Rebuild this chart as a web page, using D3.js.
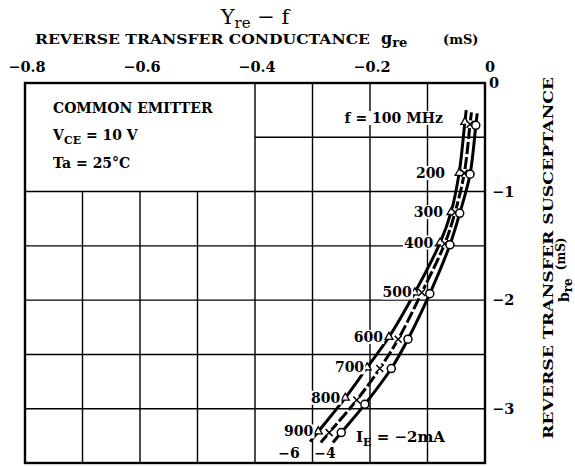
<!DOCTYPE html>
<html>
<head>
<meta charset="utf-8">
<script src="https://cdn.jsdelivr.net/npm/d3@7"></script>
<style>
  body { margin: 0; background: #fff; }
  svg { display: block; }
  text { font-family: "DejaVu Serif", "Liberation Serif", serif; font-weight: bold; fill: #000; }
  text.light { font-weight: normal; }
</style>
</head>
<body>
<div id="chart"></div>
<script>
// 頻率 (MHz)
const freqs = [100, 200, 300, 400, 500, 600, 700, 800, 900];
// IE = -2mA (circles)
const g2 = [-0.016, -0.026, -0.044, -0.061, -0.096, -0.134, -0.163, -0.209, -0.250];
const b2 = [-0.39, -0.84, -1.20, -1.49, -1.94, -2.36, -2.63, -2.96, -3.22];
// IE = -4mA (crosses)
const g4 = [-0.026, -0.036, -0.052, -0.070, -0.110, -0.151, -0.183, -0.223, -0.271];
const b4 = [-0.38, -0.83, -1.19, -1.48, -1.93, -2.36, -2.63, -2.92, -3.22];
// IE = -6mA (triangles)
const g6 = [-0.035, -0.045, -0.059, -0.078, -0.122, -0.167, -0.205, -0.243, -0.290];
const b6 = [-0.36, -0.83, -1.19, -1.47, -1.93, -2.34, -2.62, -2.90, -3.21];

const xTicks = [-0.8, -0.6, -0.4, -0.2, 0];
const xTickLabels = ["\u22120.8", "\u22120.6", "\u22120.4", "\u22120.2", "0"];
const yTicks = [0, -1, -2, -3];
const yTickLabels = ["0", "\u22121", "\u22122", "\u22123"];
const freqLabels = ["f = 100 MHz", "200", "300", "400", "500", "600", "700", "800", "900"];

const W = 575, H = 466;
const svg = d3.select("#chart").append("svg").attr("width", W).attr("height", H);

const x = d3.scaleLinear().domain([-0.8, 0]).range([25, 485]);
const y = d3.scaleLinear().domain([0, -3.5]).range([83, 463]);

// --- grid ---
const grid = svg.append("g").attr("stroke", "#000").attr("stroke-width", 1.4);
d3.range(-0.7, -0.05, 0.1).forEach(v => {
    const top = v < -0.45 ? y(-1) : y(0);
    grid.append("line").attr("x1", x(v)).attr("x2", x(v)).attr("y1", top).attr("y2", y(-3.5));
});
d3.range(-0.5, -3.45, -0.5).forEach(v => {
    const left = v > -0.75 ? x(-0.4) : x(-0.8);
    grid.append("line").attr("x1", left).attr("x2", x(0)).attr("y1", y(v)).attr("y2", y(v));
});

// frame
svg.append("rect")
    .attr("x", x(-0.8)).attr("y", y(0))
    .attr("width", x(0) - x(-0.8)).attr("height", y(-3.5) - y(0))
    .attr("fill", "none").attr("stroke", "#000").attr("stroke-width", 2.4);

// --- top axis labels ---
svg.append("g").selectAll("text").data(xTicks).join("text")
    .attr("x", (d, i) => x(d) + (d === 0 ? 5 : 2))
    .attr("y", 72)
    .attr("text-anchor", "middle")
    .attr("font-size", 14.5)
    .text((d, i) => xTickLabels[i]);

// --- right axis labels ---
svg.append("g").selectAll("text").data(yTicks).join("text")
    .attr("x", d => d === 0 ? 489 : 492)
    .attr("y", d => y(d))
    .attr("dy", "0.35em")
    .attr("font-size", 14.5)
    .text((d, i) => yTickLabels[i]);

// title
const title = svg.append("text").attr("class", "light").attr("x", 255).attr("y", 24).attr("text-anchor", "middle").attr("font-size", 21);
title.append("tspan").text("Y");
title.append("tspan").attr("font-size", 15).attr("dy", 4).text("re");
title.append("tspan").attr("dy", -4).text(" \u2212 f");

const sub = svg.append("text").attr("x", 35).attr("y", 44).attr("font-size", 13);
sub.append("tspan").attr("textLength", 335).attr("lengthAdjust", "spacingAndGlyphs").text("REVERSE TRANSFER CONDUCTANCE");
sub.append("tspan").attr("x", 381).attr("font-size", 16).text("g");
sub.append("tspan").attr("font-size", 13).attr("dy", 3).text("re");
sub.append("tspan").attr("x", 443).attr("dy", -3).attr("font-size", 13).text("(mS)");

// right title
const rt = svg.append("g").attr("transform", "translate(553,258) rotate(-90)");
rt.append("text").attr("text-anchor", "middle").attr("font-size", 13.5)
    .attr("textLength", 362).attr("lengthAdjust", "spacingAndGlyphs")
    .text("REVERSE TRANSFER SUSCEPTANCE");
const rt2 = rt.append("text").attr("x", -44).attr("y", 16).attr("font-size", 14);
rt2.append("tspan").text("b");
rt2.append("tspan").attr("font-size", 12).attr("dy", 3).text("re");
rt2.append("tspan").attr("dx", 8).attr("dy", -7).attr("font-size", 12).text("(mS)");

// conditions box
const cond = svg.append("g").attr("font-size", 14);
cond.append("text").attr("x", 53).attr("y", 113).text("COMMON EMITTER");
const vce = cond.append("text").attr("x", 53).attr("y", 140);
vce.append("tspan").text("V");
vce.append("tspan").attr("font-size", 11).attr("dy", 4).text("CE");
vce.append("tspan").attr("dy", -4).text(" = 10 V");
cond.append("text").attr("x", 53).attr("y", 168).text("Ta = 25\u00B0C");

// --- curves ---
const series = [
    { g: g6, b: b6, marker: "tri", dash: null },
    { g: g4, b: b4, marker: "cross", dash: "12,3" },
    { g: g2, b: b2, marker: "circle", dash: null }
];
const line = d3.line().curve(d3.curveCatmullRom.alpha(0.5));

series.forEach(s => {
    let pts = s.g.map((g, i) => [x(g), y(s.b[i])]);
    // 兩端稍微延伸
    const ext = (a, b, len) => {
        const dx = a[0] - b[0], dy = a[1] - b[1], L = Math.hypot(dx, dy);
        return [a[0] + dx / L * len, a[1] + dy / L * len];
    };
    pts = [ext(pts[0], pts[1], 12), ...pts, ext(pts[pts.length - 1], pts[pts.length - 2], 13)];
    svg.append("path").attr("d", line(pts))
        .attr("fill", "none").attr("stroke", "#000").attr("stroke-width", 3)
        .attr("stroke-dasharray", s.dash);
});

series.forEach(s => {
    const m = svg.append("g");
    s.g.forEach((g, i) => {
        const cx = x(g), cy = y(s.b[i]);
        if (s.marker === "circle") {
            m.append("circle").attr("cx", cx).attr("cy", cy).attr("r", 4)
                .attr("fill", "#fff").attr("stroke", "#000").attr("stroke-width", 1.5);
        } else if (s.marker === "tri") {
            m.append("path").attr("d", d3.symbol(d3.symbolTriangle, 28)())
                .attr("transform", `translate(${cx},${cy})`)
                .attr("fill", "#fff").attr("stroke", "#000").attr("stroke-width", 1.3);
        } else {
            m.append("circle").attr("cx", cx).attr("cy", cy).attr("r", 4).attr("fill", "#fff");
            m.append("path").attr("d", `M${cx - 3.5},${cy - 3.5}L${cx + 3.5},${cy + 3.5}M${cx - 3.5},${cy + 3.5}L${cx + 3.5},${cy - 3.5}`)
                .attr("stroke", "#000").attr("stroke-width", 1.5);
        }
    });
});

// --- frequency labels (white background breaks the grid) ---
const labDx = [22, 14, 8, 7, 3, 6, 3, 5, 5];
const labG = svg.append("g").attr("font-size", 14);
freqLabels.forEach((t, i) => {
    const tx = x(g6[i]) - labDx[i], ty = y(b6[i]) - (i === 0 ? 4 : 0);
    const txt = labG.append("text").attr("x", tx).attr("y", ty).attr("dy", "0.35em")
        .attr("text-anchor", "end").text(t);
    const bb = txt.node().getBBox();
    labG.insert("rect", "text").attr("x", bb.x - 1).attr("y", bb.y + 1)
        .attr("width", bb.width + 2).attr("height", bb.height - 2).attr("fill", "#fff");
});

// IE labels
const ie = svg.append("text").attr("x", 356).attr("y", 442).attr("font-size", 15);
ie.append("tspan").text("I");
ie.append("tspan").attr("font-size", 11).attr("dy", 4).text("E");
ie.append("tspan").attr("dy", -4).text(" = \u22122mA");
svg.append("text").attr("x", 289).attr("y", 458).attr("text-anchor", "middle").attr("font-size", 14).text("\u22126");
svg.append("text").attr("x", 325).attr("y", 458).attr("text-anchor", "middle").attr("font-size", 14).text("\u22124");
</script>
</body>
</html>
